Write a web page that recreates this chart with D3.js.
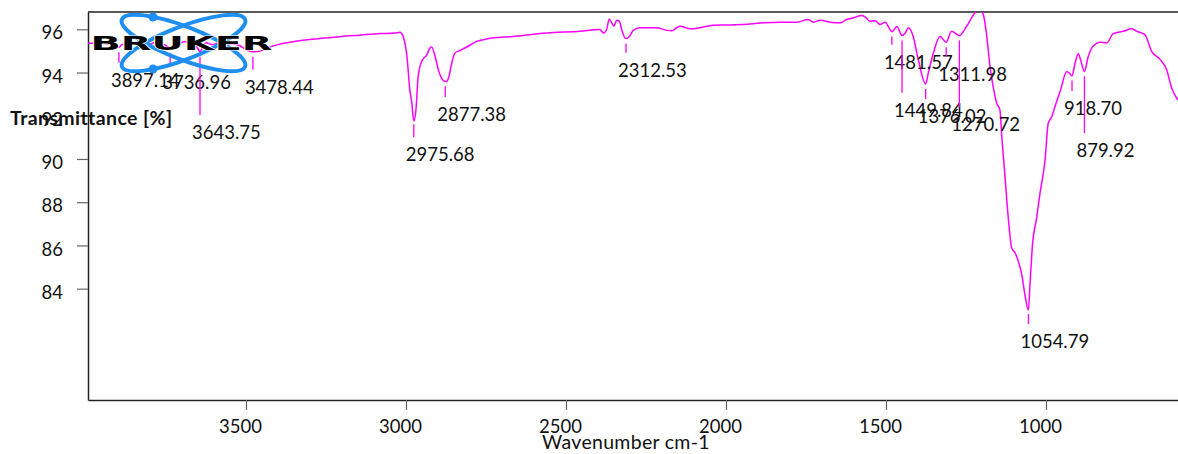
<!DOCTYPE html>
<html>
  <head>
    <title>IR spectrum</title>
    <script type="text/javascript" src="https://cdnjs.cloudflare.com/ajax/libs/d3/7.8.5/d3.min.js"></script>
    <style>
      body { margin: 0; background: #fff; }
      text { font-family: Lato, "Liberation Sans", sans-serif; }
    </style>
  </head>
  <body>
  <script>

    // spectrum (wavenumber cm-1, transmittance %)
    var wavenumbers = [
      3994, 3956, 3925, 3906, 3897, 3888, 3862, 3831, 3800, 3784, 3769, 3753, 3737, 3725, 3706, 3691,
      3675, 3659, 3650, 3644, 3634, 3625, 3606, 3588, 3566, 3544, 3519, 3500, 3478, 3456, 3431, 3400,
      3362, 3316, 3269, 3206, 3144, 3081, 3034, 3019, 3009, 2997, 2988, 2983, 2975, 2969, 2962, 2951,
      2935, 2925, 2920, 2909, 2899, 2883, 2873, 2866, 2857, 2847, 2831, 2810, 2779, 2748, 2666, 2560,
      2456, 2394, 2383, 2373, 2365, 2357, 2350, 2342, 2333, 2326, 2313, 2302, 2290, 2269, 2217, 2185,
      2170, 2154, 2144, 2112, 2081, 2040, 1988, 1935, 1883, 1831, 1779, 1743, 1727, 1706, 1675, 1644,
      1623, 1602, 1576, 1566, 1550, 1534, 1519, 1503, 1481, 1466, 1450, 1441, 1430, 1415, 1399, 1376,
      1368, 1352, 1331, 1312, 1295, 1271, 1248, 1222, 1216, 1203, 1195, 1185, 1175, 1165, 1154, 1144,
      1138, 1128, 1118, 1107, 1097, 1087, 1076, 1066, 1055, 1050, 1042, 1029, 1019, 1003, 993, 982,
      972, 956, 935, 927, 919, 909, 899, 892, 880, 868, 852, 831, 810, 790, 758, 732,
      717, 691, 670, 644, 623, 607, 588
    ];
    var transmittance = [
      95.36, 95.36, 95.33, 95.24, 95.17, 95.29, 95.33, 95.38, 95.31, 95.40, 95.33, 95.27, 95.15, 95.33, 95.36, 95.43,
      95.33, 95.24, 95.10, 94.96, 95.20, 95.38, 95.29, 95.36, 95.31, 95.33, 95.24, 95.06, 94.96, 94.99, 95.15, 95.29,
      95.40, 95.50, 95.57, 95.66, 95.73, 95.80, 95.83, 95.86, 95.67, 94.74, 93.20, 92.73, 91.75, 92.27, 93.81, 94.51,
      94.82, 95.13, 95.18, 94.74, 94.13, 93.63, 93.58, 93.81, 94.44, 94.90, 95.02, 95.18, 95.44, 95.55, 95.67, 95.83,
      95.91, 95.99, 95.83, 95.99, 96.48, 96.30, 96.14, 96.42, 96.37, 95.99, 95.57, 95.67, 95.95, 96.07, 96.07, 95.95,
      95.93, 96.07, 96.14, 96.02, 96.07, 96.19, 96.20, 96.23, 96.30, 96.33, 96.33, 96.45, 96.33, 96.42, 96.33, 96.30,
      96.45, 96.53, 96.64, 96.58, 96.37, 96.40, 96.22, 96.33, 95.89, 96.13, 95.71, 95.80, 96.07, 95.67, 94.59, 93.47,
      93.97, 94.90, 95.67, 95.40, 95.91, 95.71, 96.14, 96.76, 96.85, 96.85, 96.64, 95.67, 94.28, 93.35, 92.58, 92.27,
      91.02, 89.16, 87.30, 85.88, 85.67, 85.29, 84.67, 83.74, 83.01, 84.20, 86.07, 87.30, 88.39, 89.94, 91.65, 91.95,
      92.42, 93.12, 94.05, 93.97, 93.84, 94.44, 94.87, 94.59, 94.05, 94.74, 95.24, 95.40, 95.37, 95.80, 95.91, 96.02,
      95.91, 95.75, 94.98, 94.62, 94.13, 93.27, 92.73
    ];

    // picked peaks and where their marker lines end (transmittance %)
    var peakWavenumbers = [3897.14, 3736.96, 3643.75, 3478.44, 2975.68, 2877.38, 2312.53, 1481.57,
                           1449.84, 1376.02, 1311.98, 1270.72, 1054.79, 918.70, 879.92];
    var peakTickEnds = [94.45, 94.36, 92.03, 94.13, 91.01, 92.87, 94.92, 95.29,
                        93.06, 92.78, 94.73, 92.40, 82.36, 93.15, 91.20];

    var xTicks = [3500, 3000, 2500, 2000, 1500, 1000];
    var yTicks = [84, 86, 88, 90, 92, 94, 96];

    var width = 1178, height = 454;
    var plotLeft = 88, plotRight = 1178, plotTop = 12, plotBottom = 400;

    var svg = d3.select('body')
              .append('svg')
              .attr('width', width)
              .attr('height', height);

    var x = d3.scaleLinear()
      .domain([3993.75, 587.5])
      .range([plotLeft, plotRight]);

    var y = d3.scaleLinear()
      .domain([78.85, 96.8])
      .range([plotBottom, plotTop]);

    svg.append('clipPath').attr('id', 'plot')
      .append('rect')
      .attr('x', plotLeft).attr('y', plotTop)
      .attr('width', plotRight - plotLeft).attr('height', plotBottom - plotTop);

    // axes
    var yAxis = svg.append('g')
      .attr('transform', 'translate(' + plotLeft + ',0)')
      .call(d3.axisLeft(y).tickValues(yTicks).tickFormat(d3.format('d'))
        .tickSizeInner(11).tickSizeOuter(0).tickPadding(14));

    var xAxis = svg.append('g')
      .attr('transform', 'translate(0,' + plotBottom + ')')
      .call(d3.axisBottom(x).tickValues(xTicks).tickFormat(d3.format('d'))
        .tickSizeInner(10).tickSizeOuter(0).tickPadding(10));

    [xAxis, yAxis].forEach(function(g) {
      g.select('.domain').attr('stroke', '#222').attr('stroke-width', 1.5);
      g.selectAll('.tick line').attr('stroke', '#666').attr('stroke-width', 1.2);
      g.selectAll('.tick text').attr('fill', '#111')
        .style('font-family', 'Lato, sans-serif').style('font-size', '18.5px');
    });
    yAxis.selectAll('.tick text').attr('dy', '0.52em');
    // the x labels sit a little left of their ticks in the original
    xAxis.selectAll('.tick text').attr('dx', -6);

    // top frame line
    svg.append('line')
      .attr('x1', plotLeft).attr('x2', plotRight)
      .attr('y1', plotTop).attr('y2', plotTop)
      .attr('stroke', '#222').attr('stroke-width', 1.5);

    svg.append('text')
      .attr('x', 626).attr('y', 449)
      .attr('text-anchor', 'middle')
      .attr('fill', '#111')
      .style('font-size', '19.5px')
      .style('letter-spacing', '0.3px')
      .text('Wavenumber cm-1');

    // spectrum
    var spectrum = wavenumbers.map(function(d, i) {
      return { v: d, t: transmittance[i] };
    });

    var line = d3.line()
      .x(function(d) { return x(d.v); })
      .y(function(d) { return y(d.t); })
      .curve(d3.curveMonotoneX);

    svg.append('path')
      .datum(spectrum)
      .attr('clip-path', 'url(#plot)')
      .attr('fill', 'none')
      .attr('stroke', '#ff00ff')
      .attr('stroke-width', 1.5)
      .attr('d', line);

    // value of the curve at a wavenumber
    function curveAt(v) {
      for (var i = 1; i < spectrum.length; i++) {
        var a = spectrum[i - 1], b = spectrum[i];
        if (v <= a.v && v >= b.v) {
          var k = (a.v - v) / (a.v - b.v);
          return a.t + (b.t - a.t) * k;
        }
      }
      return spectrum[spectrum.length - 1].t;
    }

    var peaks = peakWavenumbers.map(function(d, i) {
      return { v: d, end: peakTickEnds[i] };
    });

    var marks = svg.selectAll('.peak')
      .data(peaks)
      .enter()
      .append('g')
      .attr('class', 'peak');

    marks.append('line')
      .attr('x1', function(d) { return x(d.v); })
      .attr('x2', function(d) { return x(d.v); })
      .attr('y1', function(d) { return y(curveAt(d.v)) + 5; })
      .attr('y2', function(d) { return y(d.end); })
      .attr('stroke', '#ff00ff')
      .attr('stroke-width', 1.3);

    marks.append('text')
      .attr('x', function(d) { return x(d.v) - 8; })
      .attr('y', function(d) { return y(d.end) + 24; })
      .attr('fill', '#111')
      .style('font-size', '18.5px')
      .text(function(d) { return d.v.toFixed(2); });

    // Bruker logo
    var logo = svg.append('g').attr('transform', 'translate(183.5,43)');
    [21, -21].forEach(function(a) {
      logo.append('ellipse')
        .attr('rx', 66).attr('ry', 16.5)
        .attr('transform', 'rotate(' + a + ')')
        .attr('fill', 'none')
        .attr('stroke', '#1f8ef1')
        .attr('stroke-width', 4);
    });
    logo.append('circle').attr('cx', -30.5).attr('cy', -26).attr('r', 4.5).attr('fill', '#1f8ef1');
    logo.append('circle').attr('cx', -30.5).attr('cy', 26).attr('r', 4.5).attr('fill', '#1f8ef1');
    logo.append('text')
      .attr('x', -93).attr('y', 7)
      .attr('textLength', 182)
      .attr('lengthAdjust', 'spacingAndGlyphs')
      .attr('fill', '#000')
      .attr('stroke', '#fff')
      .attr('stroke-width', 1)
      .attr('paint-order', 'stroke')
      .style('font-family', '"DejaVu Sans", sans-serif')
      .style('font-weight', 900)
      .style('font-size', '19px')
      .text('BRUKER');

    svg.append('text')
      .attr('x', 10).attr('y', 125)
      .attr('fill', '#111')
      .style('font-size', '19.5px')
      .style('letter-spacing', '0.4px')
      .style('font-weight', 'bold')
      .text('Transmittance [%]');

  </script>
 </body>
</html>
